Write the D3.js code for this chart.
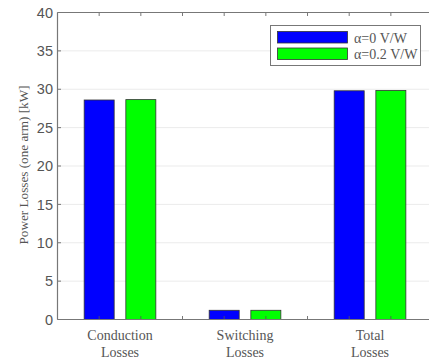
<!DOCTYPE html>
<html><head><meta charset="utf-8">
<script src="https://cdn.jsdelivr.net/npm/d3@7"></script>
<style>body{margin:0;background:#fff}svg{display:block}</style>
</head><body>
<script>
const categories = [["Conduction","Losses"],["Switching","Losses"],["Total","Losses"]];
const seriesNames = ["\u03b1=0 V/W","\u03b1=0.2 V/W"];
const series0 = [28.6, 1.2, 29.8];
const series1 = [28.65, 1.2, 29.85];
const yTicks = [0,5,10,15,20,25,30,35,40];
const yLabel = "Power Losses (one arm) [kW]";
const colors = ["#0000ff","#00ff00"];

const W = 429, H = 360;
const m = {left:57.5, top:12.5, bottom:319.5};
const svg = d3.select("body").append("svg").attr("width",W).attr("height",H);
// positions: groups at 1-2, 4-5, 7-8 on a 0..9 axis
const x = d3.scaleLinear().domain([0,9]).range([m.left, m.left + 9*41.67]);
const y = d3.scaleLinear().domain([0,40]).range([m.bottom, m.top]);
const xr = x.range()[1];

// grid
svg.append("g").selectAll("line").data(yTicks.slice(1,-1)).join("line")
  .attr("x1",m.left).attr("x2",xr).attr("y1",d=>y(d)).attr("y2",d=>y(d))
  .attr("stroke","#ebebeb").attr("stroke-width",1);

const bw = 0.72;
const bars = [];
categories.forEach((c,i)=>{
  bars.push({pos:3*i+1, v:series0[i], s:0});
  bars.push({pos:3*i+2, v:series1[i], s:1});
});
svg.append("g").selectAll("rect").data(bars).join("rect")
  .attr("x",d=>x(d.pos-bw/2)).attr("width",x(bw)-x(0))
  .attr("y",d=>y(d.v)).attr("height",d=>y(0)-y(d.v))
  .attr("fill",d=>colors[d.s]).attr("stroke","#333").attr("stroke-width",0.8);

// axes
const axCol = "#777";
const xt = d3.range(1,9);
svg.append("g").selectAll("line").data(xt).join("line")
  .attr("x1",d=>x(d)).attr("x2",d=>x(d)).attr("y1",m.bottom).attr("y2",m.bottom-3.5)
  .attr("stroke","#555").attr("stroke-width",0.8);
svg.append("g").selectAll("line").data(xt).join("line")
  .attr("x1",d=>x(d)).attr("x2",d=>x(d)).attr("y1",m.top).attr("y2",m.top+3.5)
  .attr("stroke","#555").attr("stroke-width",0.8);
svg.append("g").selectAll("line").data(yTicks).join("line")
  .attr("x1",m.left).attr("x2",m.left+3.5).attr("y1",d=>y(d)).attr("y2",d=>y(d))
  .attr("stroke","#555").attr("stroke-width",0.8);
svg.append("line").attr("x1",m.left).attr("x2",xr).attr("y1",m.bottom).attr("y2",m.bottom).attr("stroke",axCol).attr("stroke-width",1.2);
svg.append("line").attr("x1",m.left).attr("x2",xr).attr("y1",m.top).attr("y2",m.top).attr("stroke",axCol).attr("stroke-width",1.2);
svg.append("line").attr("x1",m.left).attr("x2",m.left).attr("y1",m.top).attr("y2",m.bottom).attr("stroke",axCol).attr("stroke-width",1.2);

// y tick labels
svg.append("g").selectAll("text").data(yTicks).join("text")
  .attr("x",m.left-4.5).attr("y",d=>y(d)).attr("dy","0.36em")
  .attr("text-anchor","end").attr("font-family","'Liberation Sans',Arial,sans-serif")
  .attr("font-size",14.5).attr("fill","#555").text(d=>d);

// category labels
const cl = svg.append("g").selectAll("text").data(categories).join("text")
  .attr("text-anchor","middle").attr("font-family","'Liberation Serif','Times New Roman',serif")
  .attr("font-size",14).attr("fill","#555");
cl.each(function(c,i){
  const t = d3.select(this);
  c.forEach((line,j)=>{
    t.append("tspan").attr("x",x(3*i+1.5)).attr("y",340+j*17).text(line);
  });
});

// y label
svg.append("text").attr("transform",`translate(27.5,${(m.top+m.bottom)/2 - 1}) rotate(-90)`)
  .attr("text-anchor","middle").attr("font-family","'Liberation Serif','Times New Roman',serif")
  .attr("font-size",13.2).attr("fill","#555").text(yLabel);

// legend
const lg = svg.append("g");
lg.append("rect").attr("x",270.5).attr("y",25.5).attr("width",150).attr("height",40)
  .attr("fill","#fff").attr("stroke","#777").attr("stroke-width",1);
seriesNames.forEach((n,i)=>{
  lg.append("rect").attr("x",277.5).attr("y",31.5+i*16.5).attr("width",70).attr("height",11.5)
    .attr("fill",colors[i]).attr("stroke","#333").attr("stroke-width",0.8);
  lg.append("text").attr("x",354).attr("y",37.5+i*16.5).attr("dy","0.36em")
    .attr("font-family","'Liberation Serif','Times New Roman',serif").attr("font-size",14)
    .attr("fill","#555").text(n);
});
</script>
</body></html>
